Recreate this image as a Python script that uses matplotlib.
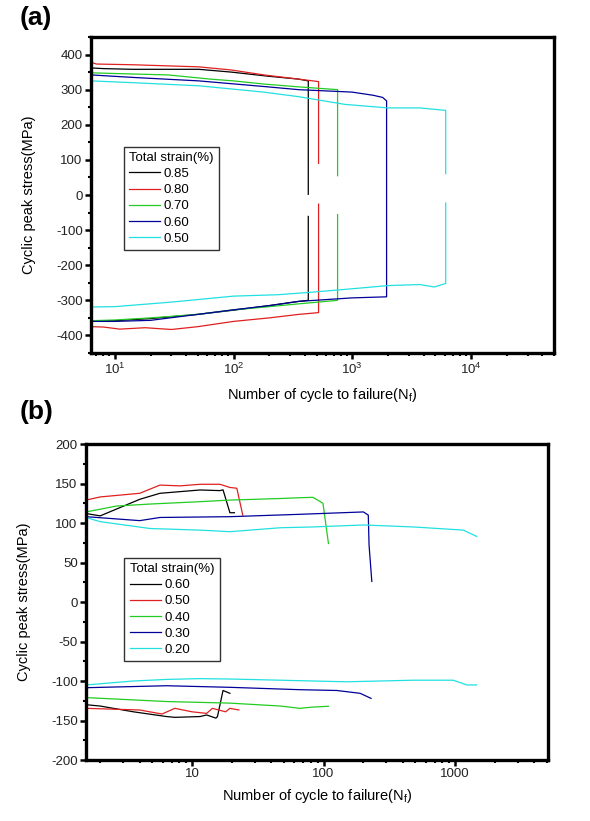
import numpy as np
import matplotlib
matplotlib.use("Agg")
import matplotlib.pyplot as plt
from matplotlib.ticker import LogLocator, MultipleLocator, FixedLocator, FixedFormatter, NullFormatter

plt.rcParams['font.family'] = ['Liberation Sans', 'DejaVu Sans']
plt.rcParams['axes.unicode_minus'] = False
plt.rcParams['mathtext.fontset'] = 'custom'
plt.rcParams['mathtext.rm'] = 'Liberation Sans'

# ---------------- Panel (a) data ----------------
a_labels = ["0.85", "0.80", "0.70", "0.60", "0.50"]
a_colors = ["#000000", "#e02020", "#22cc22", "#000099", "#22e0e0"]

a_N_085_up = [6.3, 8, 14, 51, 96, 200, 354, 426]
a_S_085_up = [362, 360, 358, 358, 350, 338, 330, 325]
a_N_085_lo = [6.3, 10, 20, 50, 100, 200, 354, 426]
a_S_085_lo = [-358, -358, -352, -340, -328, -315, -303, -300]
a_gap_085 = [2, -61]

a_N_080_up = [6.3, 7, 14, 51, 96, 180, 354, 520]
a_S_080_up = [378, 373, 371, 365, 356, 342, 330, 323]
a_N_080_lo = [6.3, 8, 11, 18, 30, 50, 100, 200, 354, 520]
a_S_080_lo = [-375, -376, -382, -378, -383, -375, -360, -350, -340, -335]
a_gap_080 = [90, -26]

a_N_070_up = [6.3, 10, 28, 64, 100, 180, 354, 752]
a_S_070_up = [348, 346, 342, 330, 325, 316, 308, 300]
a_N_070_lo = [6.3, 10, 20, 50, 100, 200, 354, 752]
a_S_070_lo = [-358, -356, -350, -340, -327, -318, -310, -300]
a_gap_070 = [55, -56]

a_N_060_up = [6.3, 14, 51, 180, 354, 1000, 1500, 1800, 1945]
a_S_060_up = [342, 335, 325, 309, 300, 293, 284, 278, 268]
a_N_060_lo = [6.3, 10, 20, 50, 100, 200, 354, 1000, 1945]
a_S_060_lo = [-360, -360, -357, -340, -327, -315, -303, -293, -290]
a_gap_060 = None

a_N_050_up = [6.3, 14, 51, 180, 354, 870, 2000, 3700, 6120]
a_S_050_up = [325, 320, 311, 293, 280, 258, 248, 248, 241]
a_N_050_lo = [6.3, 10, 30, 100, 237, 450, 1000, 2000, 3700, 4900, 6120]
a_S_050_lo = [-319, -318, -305, -288, -284, -277, -267, -258, -255, -262, -252]
a_gap_050 = [61, -23]

a_series = [
    (a_N_085_up, a_S_085_up, a_N_085_lo, a_S_085_lo, a_gap_085),
    (a_N_080_up, a_S_080_up, a_N_080_lo, a_S_080_lo, a_gap_080),
    (a_N_070_up, a_S_070_up, a_N_070_lo, a_S_070_lo, a_gap_070),
    (a_N_060_up, a_S_060_up, a_N_060_lo, a_S_060_lo, a_gap_060),
    (a_N_050_up, a_S_050_up, a_N_050_lo, a_S_050_lo, a_gap_050),
]

# ---------------- Panel (b) data ----------------
b_labels = ["0.60", "0.50", "0.40", "0.30", "0.20"]
b_colors = ["#000000", "#e02020", "#22cc22", "#000099", "#22e0e0"]

b_N_060_up = [1.56, 2.0, 4.0, 5.7, 8.1, 11.5, 16.3, 17.2, 19.4, 21]
b_S_060_up = [112, 109, 130, 137.6, 139.7, 141.8, 141, 142, 113, 113]
b_N_060_lo = [1.56, 2.0, 3.58, 6.4, 7.4, 11.5, 12.9, 15.2, 15.6, 17.2, 19.4]
b_S_060_lo = [-130, -131.7, -139, -145, -146, -145, -143, -147, -145, -112, -115.6]

b_N_050_up = [1.56, 2.0, 4.0, 5.7, 8.1, 11.5, 16.3, 19.4, 21.9, 24.3]
b_S_050_up = [129, 133, 137.6, 148, 147, 149, 149, 145, 144, 110]
b_N_050_lo = [1.56, 4.0, 5.9, 7.4, 10, 12.9, 14.3, 18, 19.4, 22.7]
b_S_050_lo = [-134.6, -136.7, -141.8, -134.6, -139, -141, -134.6, -139, -134.6, -136.7]

b_N_040_up = [1.56, 2.67, 4.8, 11.5, 19.4, 47, 66, 83, 99, 109]
b_S_040_up = [114, 121.5, 124, 127, 129, 131, 132, 132.5, 125, 74]
b_N_040_lo = [1.56, 6.4, 19.4, 47, 66, 83, 109]
b_S_040_lo = [-121, -126, -128, -131.7, -134.6, -133, -132]

b_N_030_up = [1.56, 4.0, 5.7, 19.4, 66, 201, 219, 222, 233]
b_S_030_up = [108, 103, 107, 108, 111, 114, 110, 72, 26]
b_N_030_lo = [1.56, 6.4, 19.4, 66, 126, 190, 230]
b_S_030_lo = [-108.5, -106, -108, -111, -112, -115.6, -122]

b_N_020_up = [1.56, 2.0, 4.8, 11.5, 19.4, 47, 83, 201, 482, 1157, 1462]
b_S_020_up = [107, 101.7, 93, 91, 89, 94, 95, 97.5, 95, 91, 83]
b_N_020_lo = [1.56, 3.58, 6.4, 11.5, 19.4, 47, 150, 482, 970, 1230, 1462]
b_S_020_lo = [-105, -100, -98, -97, -97.5, -99, -101, -99, -99, -105, -105]

b_series = [
    (b_N_060_up, b_S_060_up, b_N_060_lo, b_S_060_lo),
    (b_N_050_up, b_S_050_up, b_N_050_lo, b_S_050_lo),
    (b_N_040_up, b_S_040_up, b_N_040_lo, b_S_040_lo),
    (b_N_030_up, b_S_030_up, b_N_030_lo, b_S_030_lo),
    (b_N_020_up, b_S_020_up, b_N_020_lo, b_S_020_lo),
]

a_xticks = [10, 100, 1000, 10000]
a_xticklabels = [r"$10^1$", r"$10^2$", r"$10^3$", r"$10^4$"]
a_yticks = [-400, -300, -200, -100, 0, 100, 200, 300, 400]
b_xticks = [10, 100, 1000]
b_xticklabels = ["10", "100", "1000"]
b_yticks = [-200, -150, -100, -50, 0, 50, 100, 150, 200]

ylabel_txt = "Cyclic peak stress(MPa)"
xlabel_txt = r"Number of cycle to failure(N$_\mathrm{f}$)"
legend_title = "Total strain(%)"

# ---------------- Figure ----------------
fig = plt.figure(figsize=(5.90, 8.21), dpi=100)
W, H = 590, 821
axA = fig.add_axes([91 / W, 1 - 353 / H, (554 - 91) / W, (353 - 37) / H])
axB = fig.add_axes([86 / W, 1 - 760 / H, (548 - 86) / W, (760 - 444) / H])

lw = 0.9
tick_color = "#222222"


def style_axes(ax):
    for s in ax.spines.values():
        s.set_linewidth(2.4)
        s.set_color("black")
    ax.tick_params(which="major", direction="out", length=4, width=1.8,
                   labelsize=9.5, colors="black", labelcolor=tick_color, pad=2)
    ax.tick_params(which="minor", direction="out", length=2.5, width=1.5, colors="black")
    ax.set_xscale("log")


# Panel (a)
style_axes(axA)
for (Nu, Su, Nl, Sl, gap), col, lab in zip(a_series, a_colors, a_labels):
    Nf = Nu[-1]
    if gap is None:
        xs = list(Nu) + list(Nl[::-1])
        ys = list(Su) + list(Sl[::-1])
    else:
        xs = list(Nu) + [Nf, np.nan, Nf] + list(Nl[::-1])
        ys = list(Su) + [gap[0], np.nan, gap[1]] + list(Sl[::-1])
    axA.plot(xs, ys, color=col, lw=lw, label=lab)
axA.set_xlim(6.3, 50000)
axA.set_ylim(-450, 450)
axA.yaxis.set_major_locator(FixedLocator(a_yticks))
axA.yaxis.set_minor_locator(MultipleLocator(50))
axA.xaxis.set_major_locator(FixedLocator(a_xticks))
axA.xaxis.set_major_formatter(FixedFormatter(a_xticklabels))
axA.xaxis.set_minor_locator(LogLocator(base=10, subs=np.arange(2, 10), numticks=20))
axA.xaxis.set_minor_formatter(NullFormatter())
axA.set_ylabel(ylabel_txt, fontsize=10.5, labelpad=14)
axA.set_xlabel(xlabel_txt, fontsize=10.5, labelpad=7)
legA = axA.legend(title=legend_title, loc="upper left", bbox_to_anchor=(0.056, 0.674),
                  fontsize=9.5, title_fontsize=9.5, frameon=True, fancybox=False,
                  edgecolor="black", handlelength=2.4, handletextpad=0.2,
                  labelspacing=0.3, borderpad=0.4, alignment="left")
legA.get_frame().set_linewidth(1.0)

# Panel (b)
style_axes(axB)
for (Nu, Su, Nl, Sl), col, lab in zip(b_series, b_colors, b_labels):
    axB.plot(Nu, Su, color=col, lw=lw, label=lab)
    axB.plot(Nl, Sl, color=col, lw=lw)
axB.set_xlim(1.56, 5100)
axB.set_ylim(-200, 200)
axB.yaxis.set_major_locator(FixedLocator(b_yticks))
axB.yaxis.set_minor_locator(MultipleLocator(25))
axB.xaxis.set_major_locator(FixedLocator(b_xticks))
axB.xaxis.set_major_formatter(FixedFormatter(b_xticklabels))
axB.xaxis.set_minor_locator(LogLocator(base=10, subs=np.arange(2, 10), numticks=20))
axB.xaxis.set_minor_formatter(NullFormatter())
axB.set_ylabel(ylabel_txt, fontsize=10.5, labelpad=14)
axB.set_xlabel(xlabel_txt, fontsize=10.5, labelpad=5)
legB = axB.legend(title=legend_title, loc="upper left", bbox_to_anchor=(0.069, 0.661),
                  fontsize=9.5, title_fontsize=9.5, frameon=True, fancybox=False,
                  edgecolor="black", handlelength=2.4, handletextpad=0.2,
                  labelspacing=0.3, borderpad=0.4, alignment="left")
legB.get_frame().set_linewidth(1.0)

fig.text(20 / W, 1 - 6 / H, "(a)", fontsize=19, fontweight="bold", va="top", ha="left")
fig.text(20 / W, 1 - 400 / H, "(b)", fontsize=19, fontweight="bold", va="top", ha="left")

fig.savefig("out.png", dpi=100)
